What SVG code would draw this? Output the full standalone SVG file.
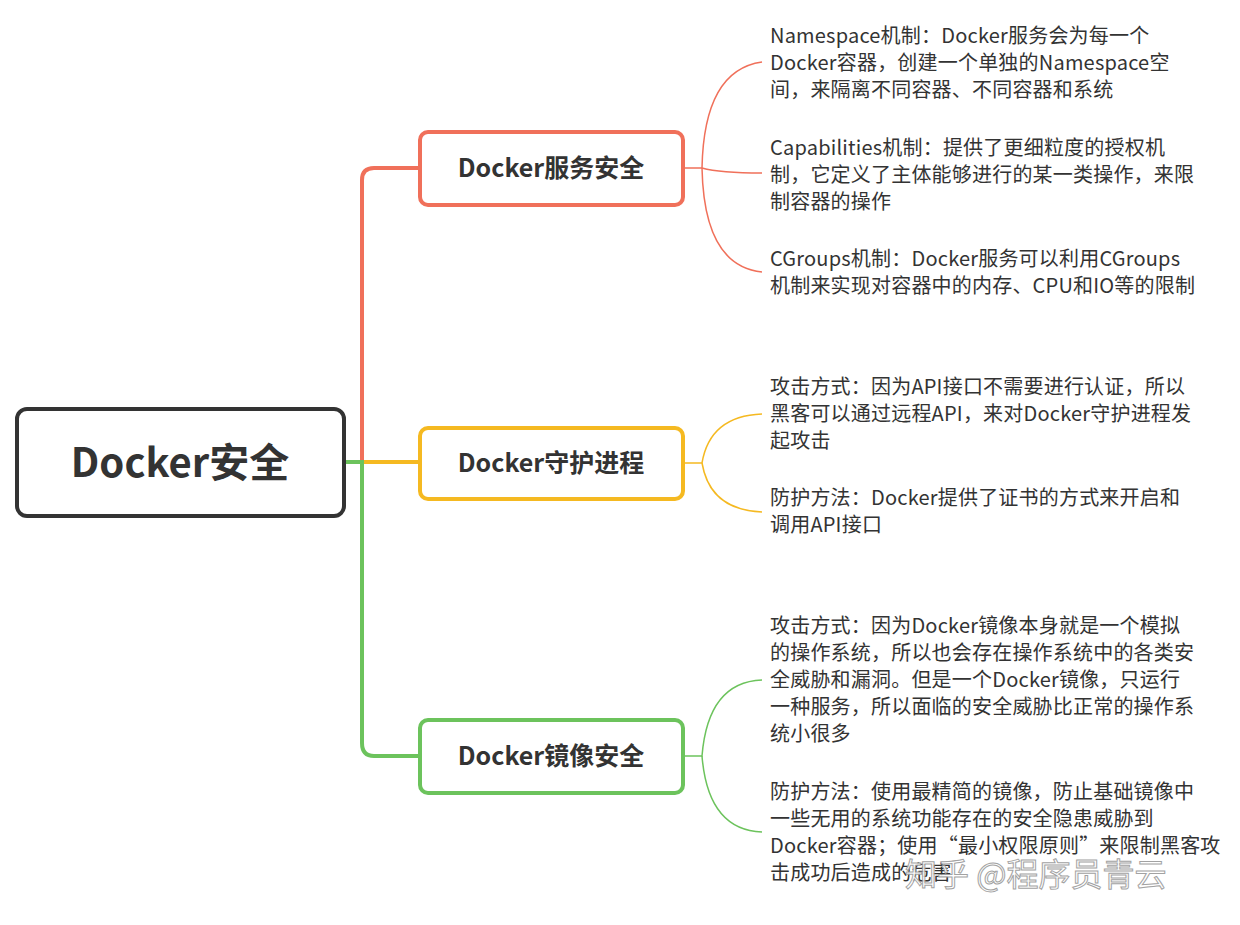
<svg xmlns="http://www.w3.org/2000/svg" width="1240" height="925" viewBox="0 0 1240 925">
<style>
text{font-family:"Noto Sans CJK SC","Noto Sans",sans-serif;fill:#333}
.leaf{font-size:20px;letter-spacing:0.2px}
.mid{font-size:25px;font-weight:bold;text-anchor:middle}
.c{fill:none;stroke-width:4}
.t{fill:none;stroke-width:1.5}
</style>
<rect width="1240" height="925" fill="#fff"/>
<g id="connectors">
<path class="c" stroke="#f0705a" d="M362 462 V180 Q362 168 374 168 H420"/>
<path class="c" stroke="#f5b921" d="M344 462 H420"/>
<path class="c" stroke="#6cc35c" d="M344 462 H362 V743 Q362 756 374 756 H420"/>
<g stroke="#f0705a" class="t"><path d="M683 168 H702 Q704 70 762 62"/><path d="M702 168 Q720 173 762 173"/><path d="M702 168 Q704 266 762 272"/></g>
<g stroke="#f5b921" class="t"><path d="M683 463 H702 Q710 416 762 414"/><path d="M702 463 Q710 510 762 512"/></g>
<g stroke="#6cc35c" class="t"><path d="M683 756 H702 Q708 682 762 680"/><path d="M702 756 Q708 830 762 832"/></g>
</g>
<g id="root"><rect x="17" y="409" width="327" height="107" rx="10" fill="#fff" stroke="#333" stroke-width="4"/><text x="180" y="477" font-size="40" font-weight="bold" text-anchor="middle">Docker安全</text></g>
<g id="n1"><rect x="420" y="132" width="263" height="73" rx="8" fill="#fff" stroke="#f0705a" stroke-width="4"/><text class="mid" x="551" y="177">Docker服务安全</text></g>
<g id="n2"><rect x="420" y="428" width="263" height="71" rx="8" fill="#fff" stroke="#f5b921" stroke-width="4"/><text class="mid" x="551" y="472">Docker守护进程</text></g>
<g id="n3"><rect x="420" y="720" width="263" height="73" rx="8" fill="#fff" stroke="#6cc35c" stroke-width="4"/><text class="mid" x="551" y="765">Docker镜像安全</text></g>
<g id="leaves">
<text class="leaf" x="770" y="43">Namespace机制：Docker服务会为每一个</text>
<text class="leaf" x="770" y="70">Docker容器，创建一个单独的Namespace空</text>
<text class="leaf" x="770" y="97">间，来隔离不同容器、不同容器和系统</text>
<text class="leaf" x="770" y="155">Capabilities机制：提供了更细粒度的授权机</text>
<text class="leaf" x="770" y="182">制，它定义了主体能够进行的某一类操作，来限</text>
<text class="leaf" x="770" y="209">制容器的操作</text>
<text class="leaf" x="770" y="266">CGroups机制：Docker服务可以利用CGroups</text>
<text class="leaf" x="770" y="293">机制来实现对容器中的内存、CPU和IO等的限制</text>
<text class="leaf" x="770" y="394">攻击方式：因为API接口不需要进行认证，所以</text>
<text class="leaf" x="770" y="421">黑客可以通过远程API，来对Docker守护进程发</text>
<text class="leaf" x="770" y="448">起攻击</text>
<text class="leaf" x="770" y="505">防护方法：Docker提供了证书的方式来开启和</text>
<text class="leaf" x="770" y="532">调用API接口</text>
<text class="leaf" x="770" y="633">攻击方式：因为Docker镜像本身就是一个模拟</text>
<text class="leaf" x="770" y="660">的操作系统，所以也会存在操作系统中的各类安</text>
<text class="leaf" x="770" y="687">全威胁和漏洞。但是一个Docker镜像，只运行</text>
<text class="leaf" x="770" y="714">一种服务，所以面临的安全威胁比正常的操作系</text>
<text class="leaf" x="770" y="741">统小很多</text>
<text class="leaf" x="770" y="799">防护方法：使用最精简的镜像，防止基础镜像中</text>
<text class="leaf" x="770" y="826">一些无用的系统功能存在的安全隐患威胁到</text>
<text class="leaf" x="770" y="853">Docker容器；使用“最小权限原则”来限制黑客攻</text>
<text class="leaf" x="770" y="880">击成功后造成的危害</text>
</g>
<text x="905" y="886" font-size="32" style="fill:#fff;stroke:#999;stroke-width:1;opacity:.9">知乎 @程序员青云</text>
</svg>
